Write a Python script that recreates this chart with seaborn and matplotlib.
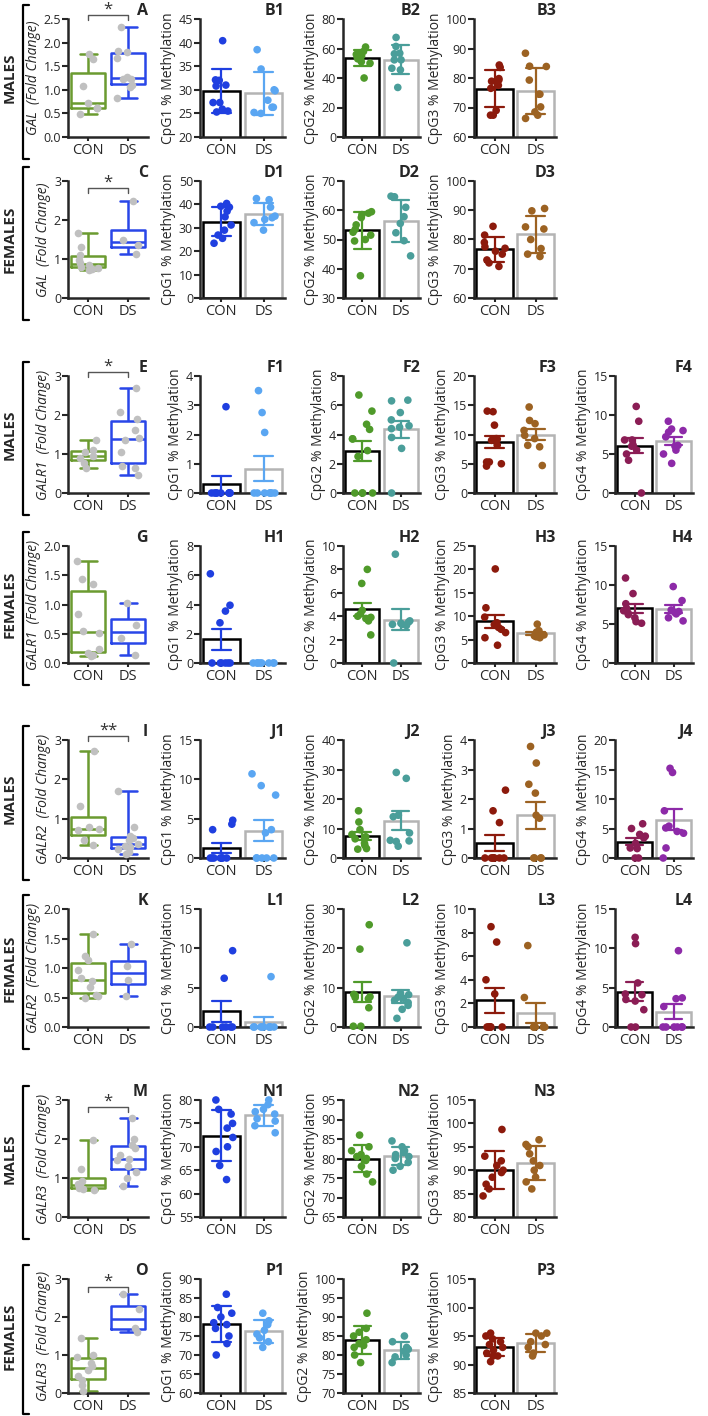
import numpy as np
import pandas as pd
import matplotlib
matplotlib.use('Agg')
from matplotlib import pyplot as plt
from matplotlib.lines import Line2D
import seaborn as sns

sns.set_style('ticks')
plt.rcParams['font.family'] = ['Open Sans', 'DejaVu Sans']

groups = ['CON', 'DS']

# ---------------- GAL ----------------
A_con = [1.75, 1.65, 1.08, 0.72, 0.62, 0.62, 0.48]
A_ds = [2.33, 1.83, 1.80, 1.68, 1.28, 1.22, 1.22, 1.10, 1.06, 0.82]
B1_con = [40.4, 32.1, 32.0, 30.8, 31.0, 27.3, 27.3, 25.9, 25.5, 25.3]
B1_ds = [38.5, 34.4, 30.0, 29.8, 27.8, 26.3, 26.3, 25.0, 25.2]
B2_con = [61.0, 58.0, 57.0, 56.0, 55.5, 55.0, 54.0, 53.0, 51.0, 50.0, 40.0]
B2_ds = [67.5, 61.4, 56.8, 56.4, 52.3, 52.3, 46.6, 45.5, 33.6]
B3_con = [84.4, 83.6, 79.8, 79.3, 78.9, 77.5, 76.5, 69.0, 67.4, 67.4]
B3_ds = [88.4, 84.0, 83.9, 79.3, 74.5, 74.5, 70.2, 68.5, 67.4, 66.3]

C_con = [1.67, 1.30, 1.10, 0.97, 0.90, 0.85, 0.80, 0.78, 0.75, 0.73]
C_ds = [2.50, 1.50, 1.35, 1.13]
D1_con = [40.4, 39.2, 38.8, 37.1, 34.7, 31.2, 29.0, 26.9, 25.5, 23.4]
D1_ds = [42.5, 42.0, 38.8, 35.0, 34.3, 33.6, 32.2, 29.0]
D2_con = [59.5, 59.0, 58.5, 57.5, 55.0, 53.5, 52.5, 51.5, 50.0, 49.5, 37.6]
D2_ds = [64.8, 64.6, 61.0, 57.8, 55.5, 52.3, 49.6, 44.4]
D3_con = [84.5, 81.5, 79.0, 77.5, 77.0, 76.0, 75.0, 73.0, 72.0, 70.8]
D3_ds = [90.6, 89.8, 84.3, 83.6, 80.0, 76.9, 75.0, 74.2]

# ---------------- GALR1 ----------------
E_con = [1.35, 1.11, 1.05, 0.94, 0.91, 0.77, 0.63]
E_ds = [2.70, 2.08, 1.91, 1.61, 1.42, 1.37, 1.05, 0.69, 0.65, 0.45]
F1_con = [2.95, 0, 0, 0, 0, 0, 0, 0, 0, 0]
F1_ds = [3.5, 2.75, 2.07, 0, 0, 0, 0, 0, 0, 0]
F2_con = [6.7, 5.6, 4.7, 4.35, 3.7, 3.7, 2.9, 2.5, 0, 0, 0, 0]
F2_ds = [6.35, 6.3, 5.5, 5.0, 4.6, 4.5, 4.4, 3.8, 3.05, 0]
F3_con = [14.0, 13.9, 11.6, 9.3, 9.2, 9.0, 8.2, 5.3, 5.3, 5.0, 4.6]
F3_ds = [14.7, 12.4, 11.85, 10.7, 9.85, 9.3, 8.15, 7.9, 4.7]
F4_con = [11.1, 9.2, 6.8, 6.8, 6.1, 6.0, 5.5, 5.0, 4.2, 0]
F4_ds = [9.2, 8.2, 8.0, 7.8, 7.2, 6.1, 6.0, 5.5, 5.0, 3.8]

G_con = [1.75, 1.43, 1.35, 0.84, 0.54, 0.51, 0.24, 0.17, 0.13, 0.12]
G_ds = [1.03, 0.65, 0.42, 0.13]
H1_con = [6.1, 3.95, 3.55, 2.75, 0, 0, 0, 0, 0, 0]
H1_ds = [0, 0, 0, 0, 0, 0, 0, 0]
H2_con = [8.0, 6.8, 4.5, 4.2, 4.0, 3.9, 3.8, 3.6, 2.4]
H2_ds = [9.3, 3.6, 3.5, 3.4, 3.3, 3.3, 3.2, 0]
H3_con = [20.1, 11.8, 9.8, 8.6, 8.2, 7.6, 7.2, 6.5, 5.4, 3.8]
H3_ds = [8.3, 6.9, 6.6, 6.3, 6.0, 5.8, 5.6, 5.4]
H4_con = [10.9, 8.9, 7.6, 7.0, 6.7, 6.4, 6.2, 5.8, 5.3, 5.1]
H4_ds = [9.8, 8.0, 6.8, 6.6, 6.5, 6.3, 5.8, 5.4]

# ---------------- GALR2 ----------------
I_con = [2.73, 1.33, 0.78, 0.75, 0.70, 0.47, 0.33]
I_ds = [1.70, 0.80, 0.55, 0.50, 0.45, 0.35, 0.30, 0.27, 0.22, 0.15, 0.10]
J1_con = [4.8, 4.3, 3.6, 0, 0, 0, 0, 0, 0, 0]
J1_ds = [10.7, 9.2, 8.0, 3.6, 3.2, 0, 0, 0, 0, 0]
J2_con = [16.0, 12.2, 9.6, 8.0, 7.2, 6.5, 5.0, 4.3, 3.2, 3.0]
J2_ds = [29.0, 27.0, 14.5, 14.0, 8.5, 6.0, 5.8, 5.6, 4.0]
J3_con = [2.3, 1.6, 1.2, 0, 0, 0, 0, 0, 0, 0]
J3_ds = [3.78, 3.22, 2.5, 2.2, 1.45, 1.35, 0, 0, 0, 0]
J4_con = [5.8, 5.0, 4.0, 3.7, 3.4, 2.5, 1.7, 1.6, 0, 0]
J4_ds = [15.2, 14.5, 8.0, 5.4, 5.1, 4.5, 4.2, 1.7, 0]

K_con = [1.57, 1.20, 1.13, 0.96, 0.83, 0.78, 0.67, 0.55, 0.52, 0.50]
K_ds = [1.40, 1.03, 0.79, 0.52]
L1_con = [9.7, 6.2, 0, 0, 0, 0, 0, 0]
L1_ds = [6.4, 0, 0, 0, 0, 0, 0, 0, 0, 0]
L2_con = [26.0, 19.8, 8.3, 8.0, 7.7, 7.5, 7.2, 4.9, 0.2, 0.2]
L2_ds = [21.4, 8.6, 8.2, 7.6, 7.3, 6.8, 6.2, 5.5, 4.5, 2.2]
L3_con = [8.5, 7.2, 4.0, 2.8, 0, 0, 0, 0, 0, 0]
L3_ds = [6.9, 2.5, 0, 0, 0, 0, 0, 0]
L4_con = [11.4, 10.6, 5.6, 4.2, 4.1, 3.5, 3.3, 2.2, 0, 0]
L4_ds = [9.7, 3.7, 3.6, 2.6, 0, 0, 0, 0, 0, 0]

# ---------------- GALR3 ----------------
M_con = [1.97, 1.22, 0.92, 0.85, 0.80, 0.75, 0.72, 0.70]
M_ds = [2.55, 2.00, 1.85, 1.78, 1.60, 1.50, 1.45, 1.30, 1.15, 1.00, 0.80]
N1_con = [80.0, 78.0, 77.0, 75.0, 74.0, 72.0, 70.0, 69.0, 66.0, 63.0]
N1_ds = [80.0, 79.0, 78.0, 77.5, 77.0, 76.0, 75.5, 74.5, 73.0]
N2_con = [86.0, 83.0, 82.0, 81.0, 80.5, 80.0, 79.5, 78.0, 76.0, 74.0]
N2_ds = [84.5, 83.0, 82.0, 81.5, 81.0, 80.5, 80.0, 79.0, 78.0, 77.0]
N3_con = [98.7, 93.0, 92.0, 91.0, 90.0, 89.5, 88.5, 87.0, 86.0, 84.5]
N3_ds = [96.5, 95.5, 95.0, 93.5, 92.0, 91.0, 90.0, 88.5, 87.5, 86.0]

O_con = [1.45, 1.00, 0.95, 0.80, 0.70, 0.60, 0.45, 0.35, 0.20, 0.05]
O_ds = [2.60, 2.20, 1.70, 1.60]
P1_con = [86.0, 82.5, 81.0, 80.0, 78.5, 78.0, 77.0, 75.0, 73.0, 70.0]
P1_ds = [81.0, 79.0, 78.0, 76.5, 75.5, 74.5, 73.5, 72.0]
P2_con = [91.0, 87.0, 86.0, 85.0, 84.0, 83.0, 82.5, 82.0, 80.0, 78.0]
P2_ds = [85.0, 83.5, 82.0, 81.5, 81.0, 80.0, 79.5, 78.0]
P3_con = [95.5, 95.0, 94.5, 94.0, 93.5, 93.0, 92.5, 92.0, 91.5, 91.5, 90.5]
P3_ds = [95.5, 95.5, 95.0, 94.0, 93.5, 93.0, 92.0, 91.5]

# colours
box_green = '#6b9b30'
box_blue = '#2946e8'
dot_gray = '#c0c0c0'
ds_edge = '#b4b4b4'
cpg_colors = {1: ('#1f3fe0', '#5aa6f2'), 2: ('#4f9a2a', '#4a9e9a'),
              3: ('#8c1a0c', '#9c6222'), 4: ('#8b1d55', '#8d2aa8')}

# layout in pixels (figure 708 x 1416)
W, H = 708, 1416
col_x = [(68, 148), (200, 285), (343, 420), (474, 556), (615, 693)]
row_y = [(19, 137), (181, 298), (376, 493), (546, 663),
         (740, 858), (909, 1027), (1100, 1217), (1279, 1393)]

fig = plt.figure(figsize=(W / 100, H / 100), dpi=100)


def add_ax(r, c):
    x0, x1 = col_x[c]
    y0, y1 = row_y[r]
    return fig.add_axes([x0 / W, 1 - y1 / H, (x1 - x0) / W, (y1 - y0) / H])


def make_df(con, ds):
    return pd.DataFrame({'group': ['CON'] * len(con) + ['DS'] * len(ds),
                         'value': list(con) + list(ds)})


def style_ax(ax, yticks, ylabel, letter, italic=False):
    ax.set_xlim(-0.5, 1.5)
    ax.set_ylim(yticks[0], yticks[-1])
    ax.set_yticks(yticks)
    if any(float(t) != int(t) for t in yticks):
        labels = ['%.1f' % t for t in yticks]
    else:
        labels = ['%d' % t for t in yticks]
    ax.set_yticklabels(labels)
    ax.set_xlabel('')
    ax.set_ylabel(ylabel, fontsize=10, labelpad=2,
                  fontstyle='italic' if italic else 'normal')
    for s in ['top', 'right']:
        ax.spines[s].set_visible(False)
    for s in ['left', 'bottom']:
        ax.spines[s].set_linewidth(1.8)
    ax.tick_params(axis='y', labelsize=9, width=1.5, length=4, pad=1)
    ax.tick_params(axis='x', labelsize=10.5, width=1.5, length=3, pad=1.5)
    ax.text(1.0, 1.0, letter, transform=ax.transAxes, ha='right', va='bottom',
            fontsize=11.5, fontweight='bold')


def box_panel(r, con, ds, yticks, gene, letter, sig, sig_y):
    ax = add_ax(r, 0)
    df = make_df(con, ds)
    for g, c in zip(groups, [box_green, box_blue]):
        sns.boxplot(data=df[df.group == g], x='group', y='value', order=groups,
                    color=c, linecolor=c, fill=False, whis=(0, 100), width=0.85,
                    linewidth=1.8, showfliers=False, ax=ax)
    sns.stripplot(data=df, x='group', y='value', order=groups, color=dot_gray,
                  size=5.5, jitter=0.28, ax=ax, zorder=3, clip_on=False)
    style_ax(ax, yticks, gene + '  (Fold Change)', letter, italic=True)
    if sig:
        tr = ax.get_xaxis_transform()
        ax.plot([0, 0, 1, 1], [sig_y - 0.04, sig_y, sig_y, sig_y - 0.04],
                transform=tr, color='#555555', lw=1.0, clip_on=False)
        ax.text(0.5, sig_y - 0.02, sig, transform=tr, ha='center', va='bottom',
                fontsize=12, color='#333333')


def bar_panel(r, c, con, ds, cpg, yticks, letter, err):
    ax = add_ax(r, c)
    df = make_df(con, ds)
    cc, dc = cpg_colors[cpg]
    for g, ec, erc in [('CON', 'black', cc), ('DS', ds_edge, dc)]:
        sns.barplot(data=df[df.group == g], x='group', y='value', order=groups,
                    color='white', edgecolor=ec, linewidth=1.8, saturation=1,
                    errorbar=err, capsize=0.45, width=0.88,
                    err_kws={'color': erc, 'linewidth': 1.6, 'zorder': 4}, ax=ax)
    sns.stripplot(data=df, x='group', y='value', hue='group', order=groups,
                  palette={'CON': cc, 'DS': dc}, size=5.5, jitter=0.28,
                  legend=False, ax=ax, zorder=3, clip_on=False)
    style_ax(ax, yticks, 'CpG%d %% Methylation' % cpg, letter)


np.random.seed(3)

# row 0: GAL males
box_panel(0, A_con, A_ds, [0, 0.5, 1, 1.5, 2, 2.5], 'GAL', 'A', '*', 1.03)
bar_panel(0, 1, B1_con, B1_ds, 1, [20, 25, 30, 35, 40, 45], 'B1', 'sd')
bar_panel(0, 2, B2_con, B2_ds, 2, [0, 20, 40, 60, 80], 'B2', 'sd')
bar_panel(0, 3, B3_con, B3_ds, 3, [60, 70, 80, 90, 100], 'B3', 'sd')
# row 1: GAL females
box_panel(1, C_con, C_ds, [0, 1, 2, 3], 'GAL', 'C', '*', 0.94)
bar_panel(1, 1, D1_con, D1_ds, 1, [0, 10, 20, 30, 40, 50], 'D1', 'sd')
bar_panel(1, 2, D2_con, D2_ds, 2, [30, 40, 50, 60, 70], 'D2', 'sd')
bar_panel(1, 3, D3_con, D3_ds, 3, [60, 70, 80, 90, 100], 'D3', 'sd')
# row 2: GALR1 males
box_panel(2, E_con, E_ds, [0, 1, 2, 3], 'GALR1', 'E', '*', 1.03)
bar_panel(2, 1, F1_con, F1_ds, 1, [0, 1, 2, 3, 4], 'F1', 'se')
bar_panel(2, 2, F2_con, F2_ds, 2, [0, 2, 4, 6, 8], 'F2', 'se')
bar_panel(2, 3, F3_con, F3_ds, 3, [0, 5, 10, 15, 20], 'F3', 'se')
bar_panel(2, 4, F4_con, F4_ds, 4, [0, 5, 10, 15], 'F4', 'se')
# row 3: GALR1 females
box_panel(3, G_con, G_ds, [0, 0.5, 1, 1.5, 2], 'GALR1', 'G', None, None)
bar_panel(3, 1, H1_con, H1_ds, 1, [0, 2, 4, 6, 8], 'H1', 'se')
bar_panel(3, 2, H2_con, H2_ds, 2, [0, 2, 4, 6, 8, 10], 'H2', 'se')
bar_panel(3, 3, H3_con, H3_ds, 3, [0, 5, 10, 15, 20, 25], 'H3', 'se')
bar_panel(3, 4, H4_con, H4_ds, 4, [0, 5, 10, 15], 'H4', 'se')
# row 4: GALR2 males
box_panel(4, I_con, I_ds, [0, 1, 2, 3], 'GALR2', 'I', '**', 1.03)
bar_panel(4, 1, J1_con, J1_ds, 1, [0, 5, 10, 15], 'J1', 'se')
bar_panel(4, 2, J2_con, J2_ds, 2, [0, 10, 20, 30, 40], 'J2', 'se')
bar_panel(4, 3, J3_con, J3_ds, 3, [0, 1, 2, 3, 4], 'J3', 'se')
bar_panel(4, 4, J4_con, J4_ds, 4, [0, 5, 10, 15, 20], 'J4', 'se')
# row 5: GALR2 females
box_panel(5, K_con, K_ds, [0, 0.5, 1, 1.5, 2], 'GALR2', 'K', None, None)
bar_panel(5, 1, L1_con, L1_ds, 1, [0, 5, 10, 15], 'L1', 'se')
bar_panel(5, 2, L2_con, L2_ds, 2, [0, 10, 20, 30], 'L2', 'se')
bar_panel(5, 3, L3_con, L3_ds, 3, [0, 2, 4, 6, 8, 10], 'L3', 'se')
bar_panel(5, 4, L4_con, L4_ds, 4, [0, 5, 10, 15], 'L4', 'se')
# row 6: GALR3 males
box_panel(6, M_con, M_ds, [0, 1, 2, 3], 'GALR3', 'M', '*', 0.94)
bar_panel(6, 1, N1_con, N1_ds, 1, [55, 60, 65, 70, 75, 80], 'N1', 'sd')
bar_panel(6, 2, N2_con, N2_ds, 2, [65, 70, 75, 80, 85, 90, 95], 'N2', 'sd')
bar_panel(6, 3, N3_con, N3_ds, 3, [80, 85, 90, 95, 100, 105], 'N3', 'sd')
# row 7: GALR3 females
box_panel(7, O_con, O_ds, [0, 1, 2, 3], 'GALR3', 'O', '*', 0.93)
bar_panel(7, 1, P1_con, P1_ds, 1, [60, 65, 70, 75, 80, 85, 90], 'P1', 'sd')
bar_panel(7, 2, P2_con, P2_ds, 2, [70, 75, 80, 85, 90, 95, 100], 'P2', 'sd')
bar_panel(7, 3, P3_con, P3_ds, 3, [85, 90, 95, 100, 105], 'P3', 'sd')

# sex labels with brackets
for i, (y0, y1) in enumerate(row_y):
    label = 'MALES' if i % 2 == 0 else 'FEMALES'
    top, bot = y0 - 14, min(y1 + 22, H - 2)
    xs = [29 / W, 23 / W, 23 / W, 29 / W]
    ys = [1 - top / H, 1 - top / H, 1 - bot / H, 1 - bot / H]
    fig.add_artist(Line2D(xs, ys, color='black', lw=1.6))
    fig.text(10 / W, 1 - (y0 + y1) / 2 / H, label, rotation=90, ha='center',
             va='center', fontsize=11, fontweight='bold')

fig.savefig('out.png', dpi=100)
